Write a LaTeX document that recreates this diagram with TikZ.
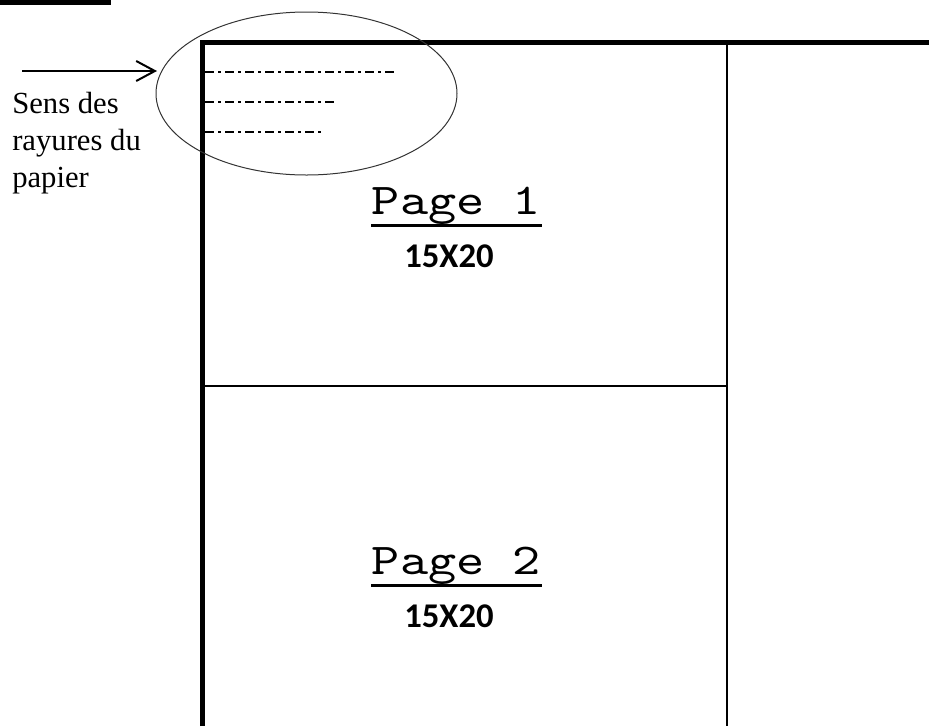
\documentclass[tikz,border=0pt]{standalone}
\usepackage{fontspec}
\setmainfont{Liberation Serif}
\newfontfamily\pagefont[FakeStretch=1.22]{lmmono10-regular.otf}
\newfontfamily\formatfont{Carlito}
\usetikzlibrary{arrows.meta,shapes.geometric}

\begin{document}
\begin{tikzpicture}[x=0.75pt,y=-0.75pt,
  rayure/.style={line width=1.5pt, dash pattern=on 6.75pt off 3pt on 2.25pt off 3pt},
  pagelabel/.style={anchor=base, inner sep=0pt, font=\pagefont\fontsize{33}{40}\selectfont},
  formatlabel/.style={anchor=base, inner sep=0pt, font=\formatfont\bfseries\fontsize{26}{30}\selectfont}]
  \useasboundingbox (0,0) rectangle (929,726);

  % trait en haut a gauche
  \draw[line width=3.5pt] (0,2.5) -- (111,2.5);

  % feuille
  \draw[line width=3.75pt, line join=miter] (202.5,726) -- (202.5,42) -- (929,42);
  \draw[line width=1.9pt] (727,44) -- (727,726);
  \draw[line width=1.9pt] (205,386) -- (727,386);

  % rayures
  \draw[rayure] (205,72) -- (397,72);
  \draw[rayure] (205,102) -- (337,102);
  \draw[rayure] (205,132) -- (322,132);

  \node[draw=black!80, line width=0.75pt, ellipse, inner sep=0pt,
        minimum width=225.75pt, minimum height=122.25pt] (zone) at (306.5,93.5) {};

  % sens des rayures
  \coordinate (depart) at (22,71);
  \coordinate (pointe) at (157,71);
  \draw[line width=1.5pt, -{Straight Barb[length=14pt,width=15pt,line width=1.5pt]}] (depart) -- (pointe);
  \node[anchor=base west, inner sep=0pt, align=left,
        font=\fontsize{23}{27.75}\selectfont] (sens) at (12,187) {Sens des\\rayures du\\papier};

  % pages
  \node[pagelabel] (p1) at (456.5,214) {Page 1};
  \draw[line width=2.2pt] (371,225.5) -- (542,225.5);
  \node[formatlabel] (f1) at (449,267) {15X20};

  \node[pagelabel] (p2) at (456.5,574) {Page 2};
  \draw[line width=2.2pt] (371,585.5) -- (542,585.5);
  \node[formatlabel] (f2) at (449,627) {15X20};
\end{tikzpicture}
\end{document}
